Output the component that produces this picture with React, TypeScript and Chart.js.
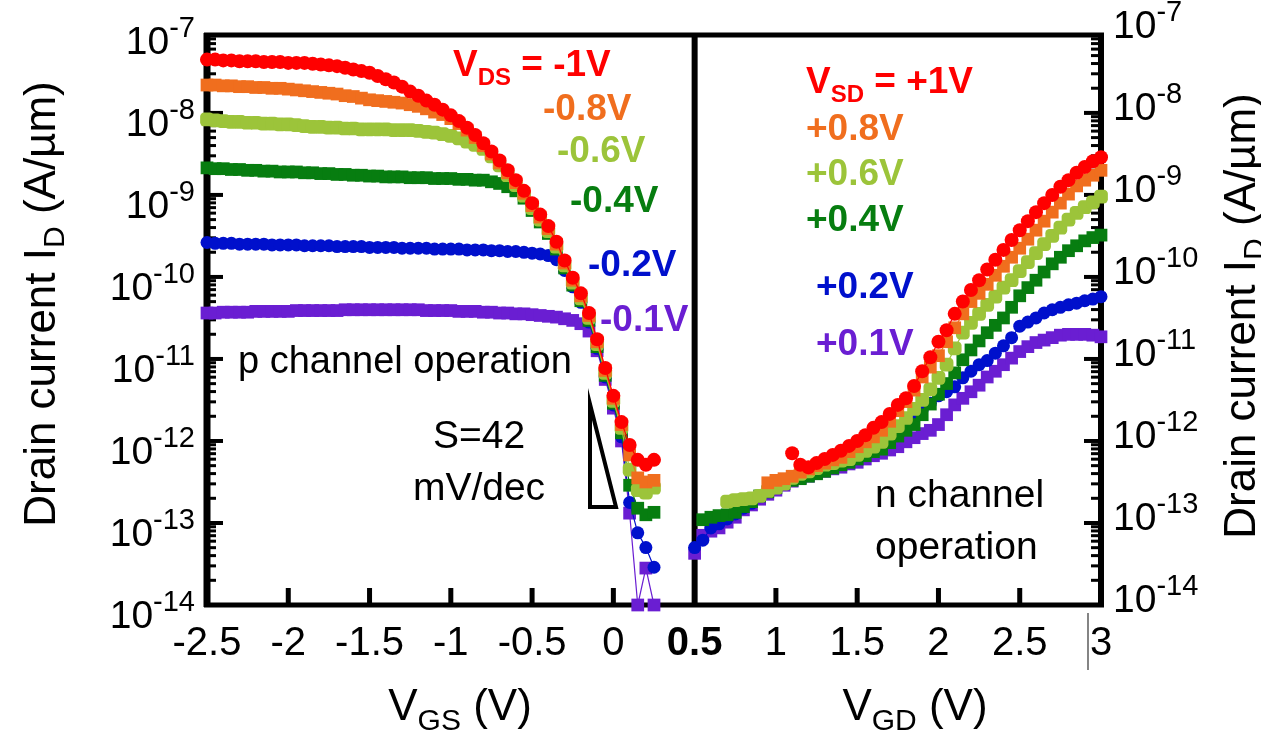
import React, { useEffect, useRef } from 'react';
import { Chart, registerables } from 'chart.js';

Chart.register(...registerables);

const FONT = '"Liberation Sans", Arial, Helvetica, sans-serif';

// ---- x grids (V) ----
const VGS = [-2.5,-2.45,-2.4,-2.35,-2.3,-2.25,-2.2,-2.15,-2.1,-2.05,-2,-1.95,-1.9,-1.85,-1.8,-1.75,-1.7,-1.65,-1.6,-1.55,-1.5,-1.45,-1.4,-1.35,-1.3,-1.25,-1.2,-1.15,-1.1,-1.05,-1,-0.95,-0.9,-0.85,-0.8,-0.75,-0.7,-0.65,-0.6,-0.55,-0.5,-0.45,-0.4,-0.35,-0.3,-0.25,-0.2,-0.15,-0.1,-0.05,0,0.05,0.1,0.15,0.2,0.25];
const VGD = [0.5,0.55,0.6,0.65,0.7,0.75,0.8,0.85,0.9,0.95,1,1.05,1.1,1.15,1.2,1.25,1.3,1.35,1.4,1.45,1.5,1.55,1.6,1.65,1.7,1.75,1.8,1.85,1.9,1.95,2,2.05,2.1,2.15,2.2,2.25,2.3,2.35,2.4,2.45,2.5,2.55,2.6,2.65,2.7,2.75,2.8,2.85,2.9,2.95,3];

// ---- log10 of drain current (A/um), p channel (vs VGS) ----
const pLog_m1V = [-7.35,-7.35,-7.36,-7.36,-7.37,-7.37,-7.37,-7.38,-7.38,-7.38,-7.39,-7.39,-7.39,-7.40,-7.41,-7.42,-7.43,-7.45,-7.47,-7.49,-7.51,-7.55,-7.59,-7.63,-7.68,-7.74,-7.79,-7.85,-7.90,-7.96,-8.03,-8.10,-8.18,-8.27,-8.37,-8.47,-8.58,-8.70,-8.82,-8.95,-9.10,-9.24,-9.38,-9.57,-9.80,-10.01,-10.20,-10.44,-10.76,-11.11,-11.45,-11.77,-12.05,-12.23,-12.29,-12.23];
const pLog_m08V = [-7.66,-7.66,-7.67,-7.67,-7.68,-7.68,-7.69,-7.69,-7.70,-7.70,-7.71,-7.72,-7.73,-7.74,-7.75,-7.76,-7.77,-7.79,-7.80,-7.82,-7.84,-7.85,-7.86,-7.87,-7.88,-7.90,-7.92,-7.95,-7.99,-8.02,-8.07,-8.13,-8.21,-8.30,-8.40,-8.50,-8.61,-8.73,-8.85,-8.98,-9.13,-9.27,-9.41,-9.60,-9.83,-10.04,-10.23,-10.47,-10.79,-11.14,-11.48,-11.80,-12.17,-12.45,-12.50,-12.48];
const pLog_m06V = [-8.08,-8.09,-8.10,-8.11,-8.11,-8.12,-8.12,-8.13,-8.13,-8.14,-8.14,-8.15,-8.16,-8.17,-8.17,-8.18,-8.18,-8.19,-8.19,-8.20,-8.20,-8.20,-8.20,-8.21,-8.21,-8.21,-8.22,-8.23,-8.24,-8.26,-8.28,-8.31,-8.35,-8.39,-8.44,-8.53,-8.64,-8.76,-8.88,-9.01,-9.16,-9.30,-9.44,-9.63,-9.86,-10.07,-10.26,-10.50,-10.82,-11.17,-11.51,-11.84,-12.35,-12.60,-12.63,-12.57];
const pLog_m04V = [-8.67,-8.68,-8.68,-8.69,-8.69,-8.70,-8.70,-8.71,-8.71,-8.72,-8.72,-8.72,-8.73,-8.73,-8.74,-8.74,-8.75,-8.75,-8.76,-8.76,-8.77,-8.77,-8.78,-8.78,-8.78,-8.79,-8.79,-8.79,-8.80,-8.80,-8.80,-8.81,-8.81,-8.82,-8.82,-8.84,-8.86,-8.90,-8.95,-9.04,-9.19,-9.33,-9.47,-9.66,-9.89,-10.10,-10.29,-10.53,-10.85,-11.20,-11.54,-11.90,-12.54,-12.82,-12.90,-12.87];
const pLog_m02V = [-9.58,-9.59,-9.59,-9.59,-9.60,-9.60,-9.60,-9.60,-9.61,-9.61,-9.61,-9.61,-9.62,-9.62,-9.62,-9.62,-9.63,-9.63,-9.63,-9.63,-9.64,-9.64,-9.64,-9.64,-9.65,-9.65,-9.65,-9.65,-9.66,-9.66,-9.66,-9.66,-9.67,-9.67,-9.67,-9.68,-9.68,-9.69,-9.69,-9.70,-9.71,-9.72,-9.74,-9.79,-9.92,-10.12,-10.31,-10.55,-10.87,-11.22,-11.56,-11.95,-12.75,-13.12,-13.30,-13.54];
const pLog_m01V = [-10.44,-10.44,-10.43,-10.43,-10.43,-10.43,-10.42,-10.42,-10.42,-10.42,-10.42,-10.41,-10.41,-10.41,-10.41,-10.41,-10.41,-10.40,-10.40,-10.40,-10.40,-10.40,-10.40,-10.40,-10.40,-10.40,-10.40,-10.41,-10.41,-10.41,-10.41,-10.42,-10.42,-10.42,-10.43,-10.43,-10.44,-10.44,-10.45,-10.45,-10.46,-10.47,-10.48,-10.49,-10.51,-10.53,-10.57,-10.66,-10.90,-11.25,-11.60,-12.00,-12.88,-14.00,-13.55,-14.00];

// ---- log10 of drain current (A/um), n channel (vs VGD) ----
const nLog_p1V = [null,null,null,null,null,null,null,null,null,null,null,null,-12.15,-12.29,-12.32,-12.27,-12.22,-12.17,-12.12,-12.06,-12.00,-11.93,-11.84,-11.77,-11.67,-11.56,-11.48,-11.33,-11.15,-10.98,-10.79,-10.65,-10.45,-10.30,-10.16,-10.04,-9.91,-9.79,-9.67,-9.55,-9.43,-9.32,-9.21,-9.10,-9.00,-8.90,-8.82,-8.73,-8.66,-8.59,-8.54];
const nLog_p08V = [null,null,null,null,null,null,null,null,null,-12.51,-12.48,-12.46,-12.43,-12.38,-12.34,-12.30,-12.27,-12.23,-12.20,-12.13,-12.07,-12.01,-11.95,-11.87,-11.76,-11.63,-11.52,-11.38,-11.22,-11.10,-10.96,-10.79,-10.62,-10.45,-10.30,-10.20,-10.09,-9.98,-9.87,-9.76,-9.65,-9.54,-9.43,-9.32,-9.21,-9.10,-8.99,-8.89,-8.82,-8.76,-8.70];
const nLog_p06V = [null,null,null,null,-12.74,-12.72,-12.71,-12.70,-12.67,-12.61,-12.57,-12.52,-12.45,-12.40,-12.37,-12.33,-12.29,-12.27,-12.24,-12.22,-12.17,-12.12,-12.07,-12.01,-11.91,-11.82,-11.72,-11.61,-11.50,-11.37,-11.23,-11.07,-10.87,-10.68,-10.56,-10.45,-10.34,-10.24,-10.13,-10.04,-9.93,-9.82,-9.71,-9.60,-9.50,-9.40,-9.30,-9.22,-9.15,-9.09,-9.02];
const nLog_p04V = [null,-12.96,-12.93,-12.91,-12.90,-12.87,-12.80,-12.74,-12.67,-12.62,-12.57,-12.52,-12.48,-12.46,-12.43,-12.40,-12.37,-12.33,-12.29,-12.26,-12.22,-12.18,-12.13,-12.10,-12.02,-11.94,-11.87,-11.80,-11.68,-11.55,-11.43,-11.30,-11.17,-11.01,-10.89,-10.78,-10.68,-10.59,-10.50,-10.37,-10.23,-10.13,-10.04,-9.94,-9.84,-9.76,-9.68,-9.62,-9.56,-9.52,-9.49];
const nLog_p02V = [-13.30,-13.21,-13.06,-13.01,-12.95,-12.89,-12.82,-12.76,-12.68,-12.62,-12.56,-12.51,-12.46,-12.43,-12.39,-12.35,-12.32,-12.28,-12.24,-12.21,-12.16,-12.11,-12.06,-12.01,-11.95,-11.88,-11.80,-11.70,-11.62,-11.54,-11.45,-11.40,-11.34,-11.23,-11.15,-11.07,-11.02,-10.93,-10.84,-10.74,-10.60,-10.55,-10.50,-10.44,-10.40,-10.37,-10.34,-10.32,-10.29,-10.27,-10.24];
const nLog_p01V = [-13.37,-13.15,-13.10,-13.06,-12.99,-12.93,-12.84,-12.78,-12.71,-12.65,-12.60,-12.54,-12.49,-12.45,-12.43,-12.39,-12.37,-12.34,-12.32,-12.28,-12.26,-12.22,-12.18,-12.15,-12.11,-12.07,-12.01,-11.96,-11.91,-11.87,-11.80,-11.68,-11.56,-11.48,-11.40,-11.32,-11.22,-11.15,-11.07,-10.99,-10.91,-10.85,-10.80,-10.77,-10.74,-10.71,-10.70,-10.70,-10.70,-10.71,-10.73];

// ---- axes ----
const X_MIN = -2.5;
const X_MAX = 3;
const Y_MIN_EXP = -14;
const Y_MAX_EXP = -7.05;
const xTickValues = [-2.5, -2, -1.5, -1, -0.5, 0, 0.5, 1, 1.5, 2, 2.5, 3];
const xTickLabels = ['-2.5', '-2', '-1.5', '-1', '-0.5', '0', '0.5', '1', '1.5', '2', '2.5', '3'];
const yDecadeExps = [-7, -8, -9, -10, -11, -12, -13, -14];
const PANEL_SPLIT = 0.5;

// ---- series styling ----
const RED = '#ff0000';
const ORANGE = '#f06e1e';
const LGREEN = '#9cc43a';
const DGREEN = '#077d10';
const BLUE = '#0010cc';
const PURPLE = '#6a1ed2';

type PS = 'circle' | 'rect' | 'rectRounded';
const seriesStyles: { color: string; style: PS; r: number }[] = [
  { color: RED, style: 'circle', r: 7 },
  { color: ORANGE, style: 'rect', r: 9 },
  { color: LGREEN, style: 'rectRounded', r: 8 },
  { color: DGREEN, style: 'rect', r: 9 },
  { color: BLUE, style: 'circle', r: 6.5 },
  { color: PURPLE, style: 'rect', r: 9 },
];
const pSeries = [pLog_m1V, pLog_m08V, pLog_m06V, pLog_m04V, pLog_m02V, pLog_m01V];
const nSeries = [nLog_p1V, nLog_p08V, nLog_p06V, nLog_p04V, nLog_p02V, nLog_p01V];

const toPoints = (xs: number[], logs: (number | null)[]) =>
  xs.map((x, i) => ({ x, y: logs[i] == null ? null : Math.pow(10, logs[i] as number) }));

type Part = { t: string; size: number; bold?: boolean; dy?: number };

function partsWidth(ctx: CanvasRenderingContext2D, parts: Part[]) {
  let w = 0;
  for (const p of parts) {
    ctx.font = `${p.bold ? 'bold ' : ''}${p.size}px ${FONT}`;
    w += ctx.measureText(p.t).width;
  }
  return w;
}

function drawParts(
  ctx: CanvasRenderingContext2D,
  parts: Part[],
  x: number,
  y: number,
  align: 'left' | 'center' | 'right',
  color: string
) {
  const w = partsWidth(ctx, parts);
  let cx = align === 'left' ? x : align === 'center' ? x - w / 2 : x - w;
  ctx.fillStyle = color;
  ctx.textAlign = 'left';
  ctx.textBaseline = 'alphabetic';
  for (const p of parts) {
    ctx.font = `${p.bold ? 'bold ' : ''}${p.size}px ${FONT}`;
    ctx.fillText(p.t, cx, y + (p.dy || 0));
    cx += ctx.measureText(p.t).width;
  }
}

const artPlugin = {
  id: 'deviceArt',
  beforeDatasetsDraw(chart: any) {
    const { ctx, chartArea: a, scales } = chart;
    const xs = scales.x;
    const ys = scales.y;
    ctx.save();
    ctx.strokeStyle = '#000';
    ctx.lineCap = 'butt';
    const line = (x1: number, y1: number, x2: number, y2: number, w: number) => {
      ctx.lineWidth = w;
      ctx.beginPath();
      ctx.moveTo(x1, y1);
      ctx.lineTo(x2, y2);
      ctx.stroke();
    };
    // y ticks (inward), both sides
    for (const d of yDecadeExps) {
      for (let m = 1; m <= 9; m++) {
        const py = ys.getPixelForValue(m * Math.pow(10, d));
        if (py < a.top + 2 || py > a.bottom - 1) continue;
        const major = m === 1;
        line(a.left, py, a.left + (major ? 16 : 9), py, major ? 4 : 3);
        line(a.right, py, a.right - (major ? 17 : 10), py, major ? 4 : 3);
      }
    }
    // x ticks (inward)
    for (const v of xTickValues) {
      if (v === X_MIN || v === X_MAX || v === PANEL_SPLIT) continue;
      const px = xs.getPixelForValue(v);
      line(px, a.bottom, px, a.bottom - 17, 5);
    }
    // frame
    line(a.left - 3, a.top, a.right + 3, a.top, 5);
    line(a.left - 3, a.bottom, a.right + 3, a.bottom, 5);
    line(a.left, a.top - 2, a.left, a.bottom + 2, 7);
    line(a.right, a.top - 2, a.right, a.bottom + 2, 6);
    const mid = xs.getPixelForValue(PANEL_SPLIT);
    line(mid, a.top, mid, a.bottom, 6);
    ctx.restore();
  },
  afterDraw(chart: any) {
    const { ctx, chartArea: a, scales } = chart;
    const xs = scales.x;
    const ys = scales.y;
    ctx.save();
    // y tick labels
    for (const d of yDecadeExps) {
      const ty = ys.getPixelForValue(Math.pow(10, d));
      const lab: Part[] = [
        { t: '10', size: 39 },
        { t: String(d), size: 29, dy: -17 },
      ];
      drawParts(ctx, lab, a.left - 12, ty + 23, 'right', '#000');
      drawParts(ctx, lab, a.right + 12, ty + 7, 'left', '#000');
    }
    // x tick labels
    xTickValues.forEach((v, i) => {
      const px = xs.getPixelForValue(v);
      drawParts(ctx, [{ t: xTickLabels[i], size: 40, bold: v === PANEL_SPLIT }], px, a.bottom + 50, 'center', '#000');
    });
    // thin mark next to "3"
    ctx.strokeStyle = '#333';
    ctx.lineWidth = 1.2;
    ctx.beginPath();
    ctx.moveTo(1088, 613);
    ctx.lineTo(1088, 670);
    ctx.stroke();
    // x titles
    drawParts(ctx, [{ t: 'V', size: 44 }, { t: 'GS', size: 30, dy: 10 }, { t: ' (V)', size: 44 }], 460, 720, 'center', '#000');
    drawParts(ctx, [{ t: 'V', size: 44 }, { t: 'GD', size: 30, dy: 10 }, { t: ' (V)', size: 44 }], 915, 720, 'center', '#000');
    // y titles
    const yTitle: Part[] = [
      { t: 'Drain current I', size: 44 },
      { t: 'D', size: 30, dy: 9 },
      { t: ' (A/\u00b5m)', size: 44 },
    ];
    ctx.save();
    ctx.translate(55, 304);
    ctx.rotate(-Math.PI / 2);
    drawParts(ctx, yTitle, 0, 0, 'center', '#000');
    ctx.restore();
    ctx.save();
    ctx.translate(1255, 316);
    ctx.rotate(-Math.PI / 2);
    drawParts(ctx, yTitle, 0, 0, 'center', '#000');
    ctx.restore();

    // colored annotations
    const B = 37;
    drawParts(ctx, [{ t: 'V', size: B, bold: true }, { t: 'DS', size: 24, bold: true, dy: 9 }, { t: ' = -1V', size: B, bold: true }], 453, 76, 'left', RED);
    drawParts(ctx, [{ t: '-0.8V', size: B, bold: true }], 543, 120, 'left', ORANGE);
    drawParts(ctx, [{ t: '-0.6V', size: B, bold: true }], 557, 162, 'left', LGREEN);
    drawParts(ctx, [{ t: '-0.4V', size: B, bold: true }], 570, 212, 'left', DGREEN);
    drawParts(ctx, [{ t: '-0.2V', size: B, bold: true }], 588, 276, 'left', BLUE);
    drawParts(ctx, [{ t: '-0.1V', size: B, bold: true }], 600, 331, 'left', PURPLE);

    drawParts(ctx, [{ t: 'V', size: B, bold: true }, { t: 'SD', size: 24, bold: true, dy: 9 }, { t: ' = +1V', size: B, bold: true }], 806, 93, 'left', RED);
    drawParts(ctx, [{ t: '+0.8V', size: B, bold: true }], 806, 140, 'left', ORANGE);
    drawParts(ctx, [{ t: '+0.6V', size: B, bold: true }], 806, 185, 'left', LGREEN);
    drawParts(ctx, [{ t: '+0.4V', size: B, bold: true }], 806, 231, 'left', DGREEN);
    drawParts(ctx, [{ t: '+0.2V', size: B, bold: true }], 816, 298, 'left', BLUE);
    drawParts(ctx, [{ t: '+0.1V', size: B, bold: true }], 816, 355, 'left', PURPLE);

    // black annotations
    drawParts(ctx, [{ t: 'p channel operation', size: 38 }], 238, 373, 'left', '#000');
    drawParts(ctx, [{ t: 'S=42', size: 39 }], 479, 448, 'center', '#000');
    drawParts(ctx, [{ t: 'mV/dec', size: 39 }], 479, 500, 'center', '#000');
    drawParts(ctx, [{ t: 'n channel', size: 39 }], 875, 507, 'left', '#000');
    drawParts(ctx, [{ t: 'operation', size: 39 }], 875, 559, 'left', '#000');

    // slope triangle
    ctx.strokeStyle = '#000';
    ctx.lineWidth = 4;
    ctx.lineJoin = 'miter';
    ctx.beginPath();
    ctx.moveTo(590, 404);
    ctx.lineTo(590, 507);
    ctx.lineTo(616, 507);
    ctx.closePath();
    ctx.stroke();
    ctx.restore();
  },
};

export default function App() {
  const ref = useRef<HTMLCanvasElement | null>(null);
  useEffect(() => {
    document.body.style.margin = '0';
    const canvas = ref.current;
    if (!canvas) return;
    const datasets: any[] = [];
    const mk = (xs: number[], logs: (number | null)[], i: number) => {
      const s = seriesStyles[i];
      return {
        data: toPoints(xs, logs),
        showLine: true,
        borderColor: s.color,
        backgroundColor: s.color,
        borderWidth: 1.2,
        pointStyle: s.style,
        pointRadius: s.r,
        pointBorderWidth: 0,
        pointBackgroundColor: s.color,
        spanGaps: false,
        clip: 10,
      };
    };
    pSeries.forEach((logs, i) => datasets.push(mk(VGS, logs, i)));
    nSeries.forEach((logs, i) => datasets.push(mk(VGD, logs, i)));

    const chart = new Chart(canvas, {
      type: 'scatter',
      data: { datasets },
      options: {
        animation: false,
        responsive: false,
        maintainAspectRatio: false,
        devicePixelRatio: 1,
        events: [],
        layout: { padding: { left: 207, right: 160, top: 35, bottom: 130 } },
        plugins: { legend: { display: false }, tooltip: { enabled: false }, title: { display: false } },
        scales: {
          x: { type: 'linear', min: X_MIN, max: X_MAX, display: false },
          y: { type: 'logarithmic', min: Math.pow(10, Y_MIN_EXP), max: Math.pow(10, Y_MAX_EXP), display: false },
        },
      },
      plugins: [artPlugin],
    } as any);
    return () => chart.destroy();
  }, []);
  return (
    <div style={{ width: 1261, height: 735, background: '#fff' }}>
      <canvas ref={ref} width={1261} height={735} style={{ display: 'block' }} />
    </div>
  );
}
